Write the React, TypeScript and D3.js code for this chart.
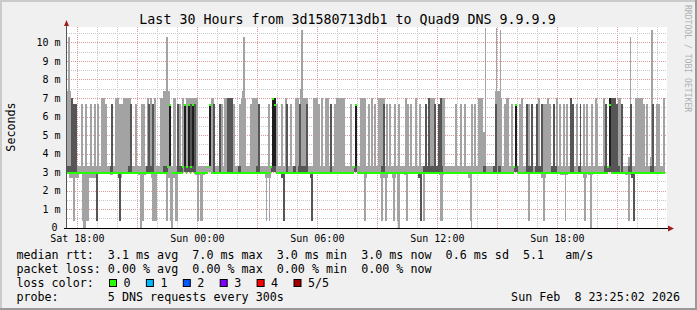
import React from 'react';
import * as d3 from 'd3';

const W = 697;
const H = 310;
const START = new Date(2026, 1, 7, 17, 29);
const END = new Date(2026, 1, 8, 23, 29);

const titleText = 'Last 30 Hours from 3d1580713db1 to Quad9 DNS 9.9.9.9';
const yTickValues = [0, 1, 2, 3, 4, 5, 6, 7, 8, 9, 10];
const yTickLabels = ['0', '1 m', '2 m', '3 m', '4 m', '5 m', '6 m', '7 m', '8 m', '9 m', '10 m'];
const xLabelTimes = ['Sat 18:00', 'Sun 00:00', 'Sun 06:00', 'Sun 12:00', 'Sun 18:00'];
const xLabelMinutes = [31, 391, 751, 1111, 1471];

// minutes since window start: [t0, t1, high ms] (light smoke above median)
const upperLight: [number, number, number][] = [
  [0, 12, 7.35], [3, 9, 10.3], [42, 48, 6.65], [54, 60, 6.65], [69, 75, 6.65], [81, 87, 6.65], [90, 96, 6.65],
  [102, 114, 7.0], [114, 120, 6.65], [144, 156, 7.0], [156, 168, 6.65], [168, 192, 7.0], [204, 210, 6.65],
  [222, 234, 6.65], [240, 246, 7.0], [249, 255, 7.0], [261, 267, 7.0], [279, 288, 7.0], [288, 309, 7.35],
  [297, 303, 10.3], [318, 327, 7.0], [336, 342, 6.65], [345, 351, 7.0], [357, 393, 7.0], [432, 441, 7.0],
  [462, 468, 6.65], [471, 480, 7.0], [498, 504, 6.65], [516, 522, 6.65], [522, 537, 7.0], [525, 534, 7.35],
  [528, 534, 10.3], [549, 555, 6.65], [555, 573, 7.0], [603, 609, 6.65], [627, 633, 6.65], [642, 648, 6.65],
  [654, 660, 7.0], [669, 675, 6.65], [684, 696, 7.0], [699, 708, 7.5], [702, 708, 10.65], [708, 723, 7.0],
  [738, 753, 7.0], [753, 759, 6.65], [762, 768, 7.0], [774, 786, 7.0], [801, 807, 6.65], [807, 834, 7.0],
  [849, 855, 6.65], [879, 897, 7.0], [903, 909, 6.65], [912, 918, 7.0], [921, 927, 6.65], [933, 954, 7.0],
  [957, 963, 6.65], [966, 972, 6.65], [981, 987, 6.65], [993, 999, 6.65], [1014, 1020, 7.0], [1020, 1026, 6.65],
  [1029, 1035, 6.65], [1044, 1050, 7.0], [1056, 1062, 6.65], [1089, 1104, 7.0], [1119, 1134, 7.0],
  [1164, 1170, 6.65], [1179, 1185, 6.65], [1191, 1197, 6.65], [1212, 1218, 6.65], [1221, 1227, 6.65],
  [1233, 1248, 7.0], [1248, 1254, 5.15], [1254, 1257, 10.8], [1284, 1305, 7.0], [1284, 1299, 7.37],
  [1286, 1290, 10.75], [1298, 1302, 10.65], [1311, 1317, 6.65], [1317, 1326, 7.0], [1332, 1338, 6.65],
  [1356, 1362, 6.65], [1362, 1368, 7.0], [1383, 1389, 6.65], [1413, 1419, 7.0], [1428, 1440, 6.65],
  [1440, 1446, 7.0], [1446, 1452, 6.65], [1467, 1473, 7.0], [1476, 1482, 6.65], [1488, 1494, 6.65],
  [1497, 1503, 6.65], [1527, 1533, 6.65], [1548, 1554, 6.65], [1557, 1563, 6.65], [1572, 1578, 6.65],
  [1584, 1590, 7.0], [1590, 1593, 6.65], [1608, 1614, 7.0], [1653, 1662, 7.0], [1683, 1689, 3.8],
  [1689, 1692, 10.3], [1704, 1728, 7.0], [1728, 1734, 6.65], [1737, 1743, 6.65], [1749, 1755, 3.8],
  [1752, 1758, 10.65], [1767, 1773, 6.65], [1773, 1779, 6.65], [1788, 1794, 7.0],
];

// [t0, t1, high ms] (dark inner smoke above median)
const upperDark: [number, number, number][] = [
  [12, 18, 7.0], [18, 30, 6.65], [132, 138, 6.65], [189, 195, 6.65], [243, 249, 6.65], [255, 261, 6.65],
  [330, 336, 6.65], [369, 375, 6.65], [381, 387, 6.65], [438, 444, 6.65], [456, 462, 6.65], [480, 498, 7.0],
  [573, 579, 6.65], [657, 663, 6.65], [696, 702, 6.65], [717, 723, 6.65], [789, 795, 6.65], [948, 954, 6.65],
  [1074, 1080, 6.65], [1083, 1089, 7.0], [1101, 1107, 6.65], [1113, 1119, 6.65], [1119, 1125, 7.0],
  [1284, 1290, 6.65], [1377, 1383, 6.65], [1392, 1398, 6.65], [1407, 1413, 6.65], [1422, 1428, 6.65],
  [1458, 1464, 6.65], [1509, 1515, 7.0], [1515, 1521, 6.65], [1539, 1542, 6.65], [1614, 1620, 6.65],
  [1632, 1647, 7.0], [1647, 1653, 6.65], [1662, 1668, 6.65], [1689, 1695, 6.65], [1755, 1761, 6.65],
];

// [t0, t1, low ms, high ms]
const blackBars: [number, number, number, number][] = [
  [306, 312, 3.35, 6.65], [351, 357, 3.35, 6.65], [363, 369, 3.35, 6.65], [375, 381, 3.35, 6.65],
  [426, 432, 3.35, 6.65], [615, 627, 3.35, 7.0], [864, 870, 3.35, 6.65], [1344, 1350, 3.35, 6.65],
  [1626, 1632, 3.35, 7.0],
];

// [t0, t1] dark band 3.0 .. 3.35 ms
const baseDark: [number, number][] = [
  [0, 24], [129, 138], [183, 192], [237, 255], [288, 303], [333, 348], [351, 387], [513, 522], [567, 579],
  [612, 627], [678, 687], [693, 717], [861, 870], [942, 954], [1068, 1104], [1107, 1128], [1248, 1257],
  [1278, 1290], [1293, 1302], [1341, 1353], [1377, 1398], [1404, 1428], [1452, 1470], [1509, 1521],
  [1533, 1542], [1611, 1659], [1683, 1695], [1749, 1761],
];

// [t0, t1, low ms] light smoke below median
const lowerLight: [number, number, number][] = [
  [6, 36, 2.7], [57, 87, 2.7], [129, 138, 2.85], [153, 165, 2.7], [213, 237, 2.85], [252, 270, 2.7],
  [297, 333, 2.7], [384, 414, 2.85], [594, 612, 2.7], [891, 900, 2.7], [939, 963, 2.7], [975, 987, 2.7],
  [1011, 1023, 2.85], [1116, 1131, 2.85], [1203, 1215, 2.7], [1383, 1389, 2.8], [1422, 1437, 2.7],
  [1479, 1503, 2.85], [1548, 1560, 2.7], [1563, 1578, 2.85], [1674, 1692, 2.85],
  [18, 24, 0.34], [45, 48, 0.34], [48, 57, 0.0], [57, 66, 0.34], [219, 225, 0.0], [225, 231, 0.34],
  [255, 270, 0.34], [297, 303, 0.34], [309, 312, 0.34], [312, 318, 0.0], [324, 333, 0.34], [390, 396, 0.34],
  [399, 408, 0.34], [597, 600, 0.34], [606, 609, 0.34], [891, 897, 0.34], [942, 948, 0.34], [954, 960, 0.34],
  [978, 984, 0.34], [990, 993, 0.34], [993, 999, 0.0], [1017, 1023, 0.34], [1068, 1074, 0.34],
  [1119, 1128, 0.34], [1209, 1212, 0.34], [1212, 1215, 0.0], [1383, 1389, 0.34], [1428, 1434, 0.34],
  [1494, 1497, 0.34], [1551, 1557, 0.34], [1569, 1575, 0.0], [1683, 1689, 0.34],
];

// [t0, t1, low ms] dark smoke below median
const lowerDark: [number, number, number][] = [
  [87, 93, 0.34], [153, 162, 2.7], [156, 162, 0.34], [642, 654, 2.7], [648, 654, 0.34], [729, 738, 2.7],
  [732, 738, 0.34], [1053, 1065, 2.7], [1059, 1065, 0.34], [1692, 1704, 2.7], [1698, 1704, 0.34],
];

// median: 3.0 ms except these [t0, t1, ms]
const medianBase = 3.0;
const medianEnd = 1794;
const medianAlt: [number, number, number][] = [
  [303, 306, 3.35], [306, 312, 6.65], [348, 351, 3.35], [351, 357, 6.65], [360, 363, 3.35], [363, 369, 6.65],
  [372, 375, 3.35], [375, 381, 6.65], [423, 426, 3.35], [426, 432, 6.65], [612, 615, 3.35], [615, 621, 7.0],
  [621, 627, 6.65], [861, 864, 3.35], [864, 870, 6.65], [1341, 1344, 3.35], [1344, 1350, 6.65],
  [1623, 1626, 3.35], [1626, 1632, 6.65],
];

const legendRtt = 'median rtt:  3.1 ms avg  7.0 ms max  3.0 ms min  3.0 ms now  0.6 ms sd  5.1   am/s';
const legendLoss = 'packet loss: 0.00 % avg  0.00 % max  0.00 % min  0.00 % now';
const lossLabels = ['0', '1', '2', '3', '4', '5/5'];
const lossColors = ['#26ff00', '#00b8ff', '#0059ff', '#7e00ff', '#ff0000', '#a10000'];
const probeText = 'probe:       5 DNS requests every 300s';
const dateText = 'Sun Feb  8 23:25:02 2026';

const LIGHT = '#a3a3a3';
const DARK = '#565656';
const BLACK = '#1e1e1e';
const MONO = "'DejaVu Sans Mono', monospace";

export default function App() {
  const x = d3.scaleTime().domain([START, END]).range([67, 667]);
  const y = d3.scaleLinear().domain([0, 10.83]).range([227.7, 27]);
  const xm = (m: number) => x(d3.timeMinute.offset(START, m));

  const hours = d3.timeHour.range(d3.timeHour.ceil(START), END);
  const rect = (t0: number, t1: number, lo: number, hi: number, fill: string, key: string) => (
    <rect key={key} x={xm(t0)} width={xm(t1) - xm(t0)} y={y(hi)} height={y(lo) - y(hi)} fill={fill} />
  );

  const alts = [...medianAlt].sort((a, b) => a[0] - b[0]);
  const baseSegs: [number, number][] = [];
  let cur = 0;
  alts.forEach((a) => {
    if (a[0] > cur) baseSegs.push([cur, a[0]]);
    cur = Math.max(cur, a[1]);
  });
  if (cur < medianEnd) baseSegs.push([cur, medianEnd]);

  const yMinor = d3.range(0.5, 10.6, 1);

  return (
    <svg width={W} height={H} style={{ position: 'absolute', left: 0, top: 0 }} xmlns="http://www.w3.org/2000/svg">
      <rect x={0} y={0} width={W} height={H} fill="#f0f0f0" />
      <rect x={0} y={0} width={W} height={2} fill="#cbcbcb" />
      <rect x={0} y={0} width={2} height={H} fill="#cbcbcb" />
      <rect x={0} y={H - 2} width={W} height={2} fill="#999999" />
      <rect x={W - 2} y={0} width={2} height={H} fill="#999999" />
      <rect x={67} y={27} width={600} height={201} fill="#ffffff" />

      <g shapeRendering="crispEdges">
        {hours.map((h, i) => {
          const major = h.getHours() % 3 === 0;
          return (
            <line key={'vg' + i} x1={Math.round(x(h)) + 0.5} x2={Math.round(x(h)) + 0.5} y1={27} y2={228}
              stroke={major ? '#e09a9a' : '#c8c8c8'} strokeDasharray="1,1" />
          );
        })}
        {yMinor.map((v, i) => (
          <line key={'hm' + i} x1={67} x2={667} y1={Math.round(y(v)) + 0.5} y2={Math.round(y(v)) + 0.5}
            stroke="#c8c8c8" strokeDasharray="1,1" />
        ))}
        {yTickValues.filter((v) => v > 0).map((v, i) => (
          <line key={'hM' + i} x1={67} x2={667} y1={Math.round(y(v)) + 0.5} y2={Math.round(y(v)) + 0.5}
            stroke="#e09a9a" strokeDasharray="1,1" />
        ))}
      </g>

      <g shapeRendering="crispEdges">
        {rect(0, medianEnd, 3.0, 3.35, LIGHT, 'band')}
        {upperLight.map((d, i) => rect(d[0], d[1], 3.0, d[2], LIGHT, 'ul' + i))}
        {lowerLight.map((d, i) => rect(d[0], d[1], d[2], 3.0, LIGHT, 'll' + i))}
        {upperDark.map((d, i) => rect(d[0], d[1], 3.0, d[2], DARK, 'ud' + i))}
        {lowerDark.map((d, i) => rect(d[0], d[1], d[2], 3.0, DARK, 'ld' + i))}
        {baseDark.map((d, i) => rect(d[0], d[1], 3.0, 3.35, DARK, 'bd' + i))}
        {blackBars.map((d, i) => rect(d[0], d[1], d[2], d[3], BLACK, 'bk' + i))}
      </g>

      <g shapeRendering="crispEdges" fill="#26ff00">
        {baseSegs.map((s, i) => (
          <rect key={'mb' + i} x={xm(s[0])} width={xm(s[1]) - xm(s[0])} y={Math.round(y(medianBase)) - 0.5} height={2} />
        ))}
        {medianAlt.map((s, i) => (
          <rect key={'ma' + i} x={xm(s[1]) - 2} width={2} y={Math.round(y(s[2])) - 0.5} height={2} />
        ))}
      </g>

      <g shapeRendering="crispEdges">
        <line x1={64} x2={670} y1={228.5} y2={228.5} stroke="#000" />
        <line x1={66.5} x2={66.5} y1={24} y2={228} stroke="#555" />
      </g>
      <path d="M64,26 L66.5,20 L69,26 Z" fill="#9b2020" />
      <path d="M668,225.5 L674,228.5 L668,231.5 Z" fill="#9b2020" />

      <g fontFamily={MONO} fontSize={10} fill="#000">
        {yTickValues.map((v, i) => (
          <text key={'yl' + i} x={v === 0 ? 57.5 : 60.5} y={y(v) + 3.6} textAnchor="end">{yTickLabels[i]}</text>
        ))}
        {xLabelMinutes.map((m, i) => (
          <text key={'xl' + i} x={xm(m)} y={241.5} textAnchor="middle">{xLabelTimes[i]}</text>
        ))}
      </g>

      <text x={0} y={0} transform="translate(14.5,127) rotate(-90)" fontFamily={MONO} fontSize={11.7} textAnchor="middle">Seconds</text>
      <text x={347.5} y={24} fontFamily={MONO} fontSize={13.3} textAnchor="middle">{titleText}</text>
      <text x={0} y={0} transform="translate(685,5) rotate(90)" fontFamily={MONO} fontSize={8.1} fill="#b0b0b0">RRDTOOL / TOBI OETIKER</text>

      <g fontFamily={MONO} fontSize={11.7} fill="#000" style={{ whiteSpace: 'pre' }}>
        <text x={16.4} y={258.5} xmlSpace="preserve">{legendRtt}</text>
        <text x={16.4} y={272.5} xmlSpace="preserve">{legendLoss}</text>
        <text x={16.4} y={286.5}>loss color:</text>
        {lossLabels.map((l, i) => (
          <g key={'lc' + i}>
            <rect x={109.5 + i * 36.9} y={279.5} width={7} height={7} fill={lossColors[i]} stroke="#000" strokeWidth={1} />
            <text x={123.5 + i * 36.9} y={286.5}>{l}</text>
          </g>
        ))}
        <text x={16.4} y={300.5} xmlSpace="preserve">{probeText}</text>
        <text x={680} y={300.5} textAnchor="end" xmlSpace="preserve">{dateText}</text>
      </g>
    </svg>
  );
}
